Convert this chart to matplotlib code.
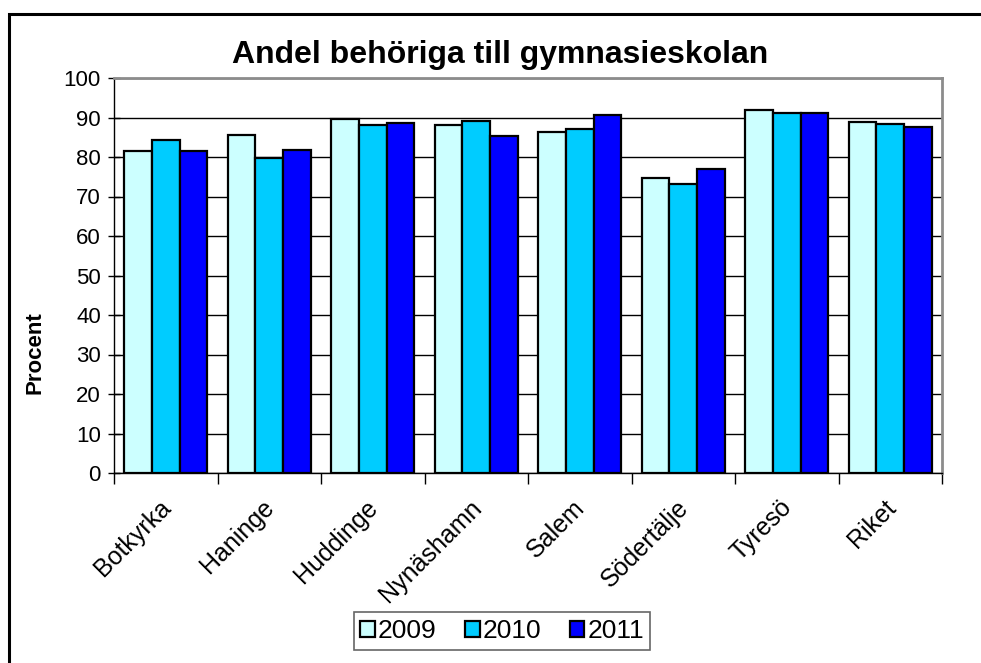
import matplotlib
matplotlib.use("Agg")
import matplotlib.pyplot as plt
import matplotlib.patches as mpatches
import matplotlib.transforms as mtransforms
import numpy as np

plt.rcParams["font.family"] = ["Liberation Sans", "DejaVu Sans"]

# data
kommuner = ["Botkyrka", "Haninge", "Huddinge", "Nynäshamn", "Salem",
            "Södertälje", "Tyresö", "Riket"]
years = ["2009", "2010", "2011"]
v2009 = [81.5, 85.6, 89.6, 88.1, 86.3, 74.6, 91.8, 88.9]
v2010 = [84.3, 79.7, 88.1, 89.1, 87.2, 73.2, 91.1, 88.3]
v2011 = [81.5, 81.8, 88.6, 85.3, 90.6, 76.9, 91.1, 87.6]
yticks = list(range(0, 101, 10))

colors = ["#CCFFFF", "#00CCFF", "#0000FF"]

fig = plt.figure(figsize=(9.81, 6.63), dpi=100)
ax = fig.add_axes([114 / 981, 1 - 473 / 663, (942 - 114) / 981, (473 - 78) / 663])

x = np.arange(len(kommuner))
w = 0.268
for i, (vals, c, lab) in enumerate(zip([v2009, v2010, v2011], colors, years)):
    ax.bar(x + (i - 1) * w, vals, width=w, color=c, edgecolor="black",
           linewidth=1.6, label=lab, zorder=3)

ax.set_xlim(-0.5, len(kommuner) - 0.5)
ax.set_ylim(0, 100)
ax.set_yticks(yticks)
ax.tick_params(axis="y", direction="inout", length=9, width=1,
               labelsize=16, pad=5)
ax.yaxis.grid(True, color="black", linewidth=1, zorder=0)
ax.set_axisbelow(True)

ax.set_xticks(x)
ax.set_xticklabels(kommuner, rotation=45, ha="right", va="top",
                   rotation_mode="anchor", fontsize=18)
ax.tick_params(axis="x", which="major", length=0, pad=16)
ax.set_xticks(np.arange(-0.5, len(kommuner)), minor=True)
ax.tick_params(axis="x", which="minor", direction="out", length=8, width=1)
shift = mtransforms.ScaledTranslation(-7 / 100, 0, fig.dpi_scale_trans)
for lbl in ax.get_xticklabels():
    lbl.set_transform(lbl.get_transform() + shift)

for s in ["top", "right"]:
    ax.spines[s].set_color("#8c8c8c")
    ax.spines[s].set_linewidth(2)
for s in ["left", "bottom"]:
    ax.spines[s].set_color("black")
    ax.spines[s].set_linewidth(1)

fig.text(35 / 981, 1 - 353 / 663, "Procent", rotation=90, ha="center",
         va="center", fontsize=16, fontweight="bold")

fig.text(500 / 981, 1 - 55 / 663, "Andel behöriga till gymnasieskolan",
         ha="center", va="center", fontsize=23, fontweight="bold")

leg = fig.legend(loc="center", bbox_to_anchor=(502 / 981, 1 - 631 / 663),
                 ncol=3, fontsize=19, frameon=True, fancybox=False,
                 handlelength=0.55, handleheight=0.55, handletextpad=0.1,
                 columnspacing=1.1, borderpad=0.25)
leg.get_frame().set_edgecolor("#404040")
leg.get_frame().set_linewidth(1.2)

# outer chart border
fig.patches.append(mpatches.Rectangle((9 / 981, -0.05), 1.1, 1 - 14 / 663 + 0.05,
                                      transform=fig.transFigure, fill=False,
                                      edgecolor="black", linewidth=2.2))

fig.savefig("out.png", dpi=100)
